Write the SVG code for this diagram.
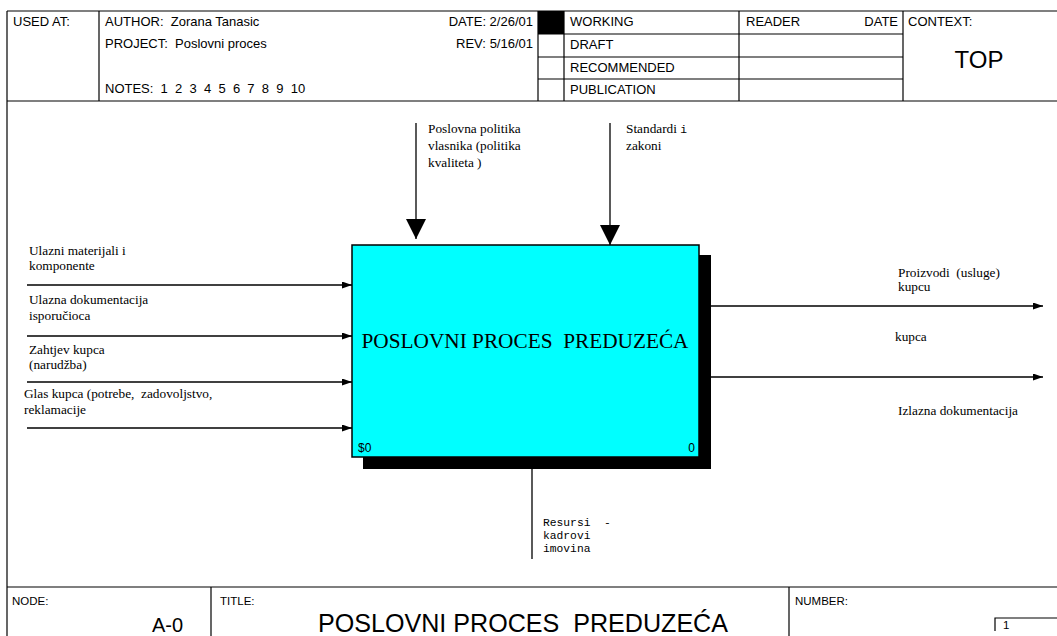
<svg xmlns="http://www.w3.org/2000/svg" width="1057" height="636" viewBox="0 0 1057 636">
<defs>
<style>
.frame{fill:none;stroke:#000;stroke-width:1.2}
.hdr{font-family:"Liberation Sans",Arial,sans-serif;font-size:13px;fill:#000}
.lbl{font-family:"Liberation Serif","Times New Roman",serif;font-size:13.3px;fill:#000}
.mono{font-family:"Liberation Mono","Courier New",monospace;font-size:11.3px;fill:#000}
.conn{fill:none;stroke:#000;stroke-width:1.3}
</style>
<marker id="sm" markerUnits="userSpaceOnUse" markerWidth="11" markerHeight="8" refX="10" refY="3.5" orient="auto">
<path d="M0,0 L10,3.5 L0,7 Z" fill="#000"/>
</marker>
<marker id="big" markerUnits="userSpaceOnUse" markerWidth="21" markerHeight="21" refX="20" refY="10" orient="auto">
<path d="M0,0 L20,10 L0,20 Z" fill="#000"/>
</marker>
</defs>
<rect width="1057" height="636" fill="#fff"/>

<g id="header">
<line class="frame" x1="7" y1="11" x2="1057" y2="11"/>
<line class="frame" x1="7" y1="101" x2="1057" y2="101"/>
<line class="frame" x1="7" y1="11" x2="7" y2="636"/>
<line class="frame" x1="99" y1="11" x2="99" y2="101"/>
<line class="frame" x1="538" y1="11" x2="538" y2="101"/>
<line class="frame" x1="564" y1="11" x2="564" y2="101"/>
<line class="frame" x1="739" y1="11" x2="739" y2="101"/>
<line class="frame" x1="903" y1="11" x2="903" y2="101"/>
<line class="frame" x1="538" y1="34" x2="903" y2="34"/>
<line class="frame" x1="538" y1="57" x2="903" y2="57"/>
<line class="frame" x1="538" y1="79" x2="903" y2="79"/>
<rect x="538" y="11" width="26" height="23" fill="#000"/>
<text class="hdr" x="13" y="26">USED AT:</text>
<text class="hdr" x="105" y="26" xml:space="preserve">AUTHOR:  Zorana Tanasic</text>
<text class="hdr" x="105" y="48" xml:space="preserve">PROJECT:  Poslovni proces</text>
<text class="hdr" x="105" y="93" xml:space="preserve">NOTES:  1  2  3  4  5  6  7  8  9  10</text>
<text class="hdr" x="533" y="26" text-anchor="end">DATE: 2/26/01</text>
<text class="hdr" x="456" y="48">REV:</text>
<text class="hdr" x="533" y="48" text-anchor="end">5/16/01</text>
<text class="hdr" x="570" y="26">WORKING</text>
<text class="hdr" x="570" y="49">DRAFT</text>
<text class="hdr" x="570" y="72">RECOMMENDED</text>
<text class="hdr" x="570" y="94">PUBLICATION</text>
<text class="hdr" x="746" y="26">READER</text>
<text class="hdr" x="898" y="26" text-anchor="end">DATE</text>
<text class="hdr" x="908" y="26">CONTEXT:</text>
<text class="hdr" x="979" y="68" text-anchor="middle" style="font-size:24px">TOP</text>
</g>

<g id="footer">
<line class="frame" x1="7" y1="587" x2="1057" y2="587"/>
<line class="frame" x1="211" y1="587" x2="211" y2="636"/>
<line class="frame" x1="789" y1="587" x2="789" y2="636"/>
<text class="hdr" x="12" y="605" style="font-size:11.5px">NODE:</text>
<text class="hdr" x="152" y="632" style="font-size:20px">A-0</text>
<text class="hdr" x="220" y="605" style="font-size:11.5px">TITLE:</text>
<text class="hdr" x="318" y="632" style="font-size:25px" textLength="410" lengthAdjust="spacingAndGlyphs" xml:space="preserve">POSLOVNI PROCES  PREDUZEĆA</text>
<text class="hdr" x="795" y="605" style="font-size:11.5px">NUMBER:</text>
<path class="frame" d="M995,631 V618 H1057"/>
<text class="hdr" x="1003" y="629" style="font-size:11.5px">1</text>
</g>

<g id="node-A0">
<rect x="363" y="255" width="348" height="214" fill="#000"/>
<rect x="352" y="245" width="347" height="212" fill="#00ffff" stroke="#000" stroke-width="1.5"/>
<text class="lbl" x="525" y="348" text-anchor="middle" style="font-size:21px" textLength="327" lengthAdjust="spacingAndGlyphs" xml:space="preserve">POSLOVNI PROCES  PREDUZEĆA</text>
<text class="hdr" x="358" y="452" style="font-size:12px">$0</text>
<text class="hdr" x="695" y="452" text-anchor="end" style="font-size:12px">0</text>
</g>

<g id="connectors">
<line class="conn" x1="27" y1="285" x2="352" y2="285" marker-end="url(#sm)"/>
<line class="conn" x1="27" y1="336" x2="352" y2="336" marker-end="url(#sm)"/>
<line class="conn" x1="27" y1="382" x2="352" y2="382" marker-end="url(#sm)"/>
<line class="conn" x1="27" y1="428" x2="352" y2="428" marker-end="url(#sm)"/>
<line class="conn" x1="711" y1="306" x2="1043" y2="306" marker-end="url(#sm)"/>
<line class="conn" x1="711" y1="377" x2="1043" y2="377" marker-end="url(#sm)"/>
<line class="conn" x1="416" y1="123" x2="416" y2="239" marker-end="url(#big)"/>
<line class="conn" x1="610" y1="123" x2="610" y2="245" marker-end="url(#big)"/>
<line class="conn" x1="532" y1="457" x2="532" y2="559"/>
</g>

<g id="labels">
<text class="lbl" x="29" y="255">Ulazni materijali i</text>
<text class="lbl" x="29" y="270">komponente</text>
<text class="lbl" x="29" y="304">Ulazna dokumentacija</text>
<text class="lbl" x="29" y="320">isporučioca</text>
<text class="lbl" x="29" y="354">Zahtjev kupca</text>
<text class="lbl" x="29" y="369">(narudžba)</text>
<text class="lbl" x="24" y="398" xml:space="preserve">Glas kupca (potrebe,  zadovoljstvo,</text>
<text class="lbl" x="24" y="414">reklamacije</text>
<text class="lbl" x="428" y="133">Poslovna politika</text>
<text class="lbl" x="428" y="150">vlasnika (politika</text>
<text class="lbl" x="428" y="167">kvaliteta )</text>
<text class="lbl" x="626" y="133">Standardi <tspan class="mono">i</tspan></text>
<text class="lbl" x="626" y="150">zakoni</text>
<text class="lbl" x="898" y="277" xml:space="preserve">Proizvodi  (usluge)</text>
<text class="lbl" x="898" y="291">kupcu</text>
<text class="lbl" x="895" y="341">kupca</text>
<text class="lbl" x="898" y="415">Izlazna dokumentacija</text>
<text class="mono" x="543" y="526" xml:space="preserve">Resursi  -</text>
<text class="mono" x="543" y="539">kadrovi</text>
<text class="mono" x="543" y="552">imovina</text>
</g>
</svg>
